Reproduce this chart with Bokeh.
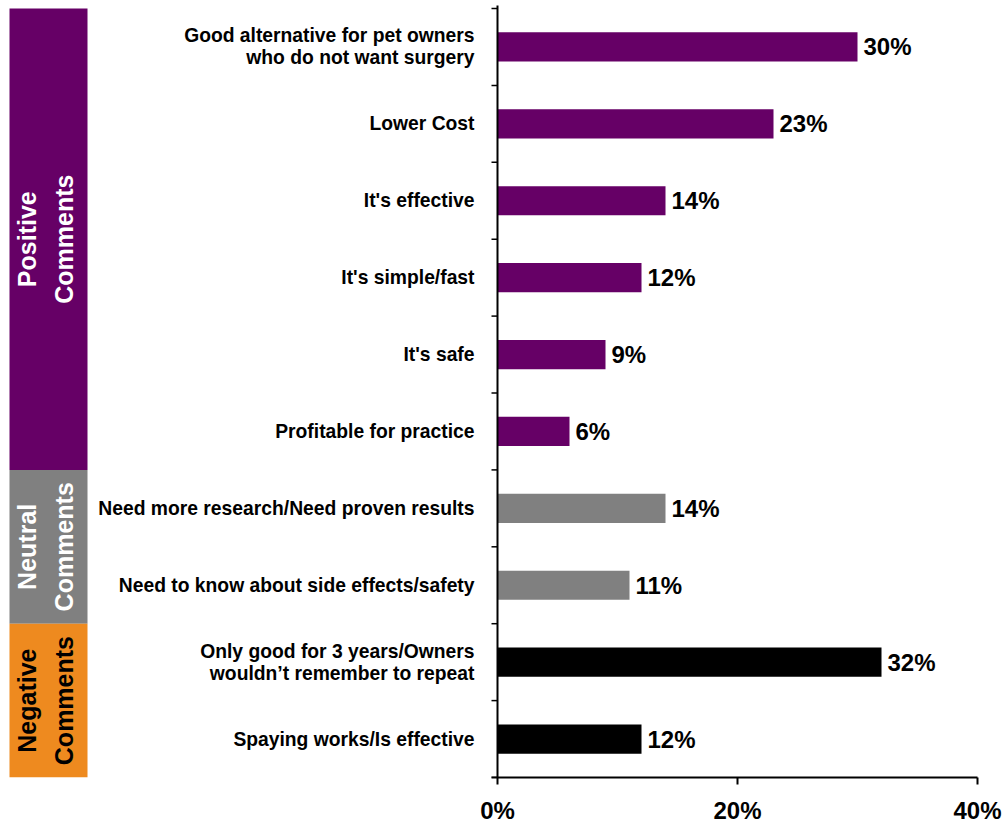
import math
from bokeh.plotting import figure
from bokeh.models import Range1d, FixedTicker, ColumnDataSource, LinearAxis
from bokeh.core.properties import value
from bokeh.embed import file_html
from bokeh.resources import INLINE

# ---------------- data ----------------
categories = [
    "Good alternative for pet owners\nwho do not want surgery",
    "Lower Cost",
    "It's effective",
    "It's simple/fast",
    "It's safe",
    "Profitable for practice",
    "Need more research/Need proven results",
    "Need to know about side effects/safety",
    "Only good for 3 years/Owners\nwouldn\u2019t remember to repeat",
    "Spaying works/Is effective",
]
values = [30, 23, 14, 12, 9, 6, 14, 11, 32, 12]
groups = ["Positive"] * 6 + ["Neutral"] * 2 + ["Negative"] * 2

group_names = ["Positive", "Neutral", "Negative"]
group_labels = ["Positive\nComments", "Neutral\nComments", "Negative\nComments"]
group_colors = ["#660066", "#808080", "#EE8A1F"]
group_text_colors = ["#FFFFFF", "#FFFFFF", "#000000"]
bar_colors = {"Positive": "#660066", "Neutral": "#808080", "Negative": "#000000"}

x_ticks = [0, 20, 40]
x_tick_labels = ["0%", "20%", "40%"]

# ---------------- layout constants ----------------
W, H = 1006, 829
X0_PX = 497          # pixel of 0%
PX_PER_UNIT = 12     # pixels per percent
ROW_PX = 76.9
TOP_PX = 8
FRAME_H = 777

def px_to_x(px):
    return (px - X0_PX) / PX_PER_UNIT

font = value("Liberation Sans")

n = len(categories)
ys = list(range(n))

p = figure(
    width=W, height=H,
    x_range=Range1d(px_to_x(0), px_to_x(W)),
    y_range=Range1d(n - 0.5, -0.5 - TOP_PX / ROW_PX),
    output_backend="svg", toolbar_location=None,
    min_border_left=0, min_border_right=0, min_border_top=0,
    min_border_bottom=H - FRAME_H,
    x_axis_location=None, y_axis_location=None,
    outline_line_color=None,
)
p.xgrid.visible = False
p.ygrid.visible = False
p.background_fill_color = "white"
p.border_fill_color = "white"

# bars
src = ColumnDataSource(dict(
    y=ys, v=values,
    color=[bar_colors[g] for g in groups],
    cat=categories,
    lab=[f"{v}%" for v in values],
    lab_x=[v + 6 / PX_PER_UNIT for v in values],
))
p.hbar(y="y", left=0, right="v", height=0.38, fill_color="color",
       line_color=None, source=src)

# value labels
p.text(x="lab_x", y="y", text="lab", source=src,
       text_align="left", text_baseline="middle",
       text_font=font, text_font_style="bold", text_font_size="24px",
       text_color="#000000")

# category labels
p.text(x=px_to_x(474), y="y", text="cat", source=src,
       text_align="right", text_baseline="middle",
       text_font=font, text_font_style="bold", text_font_size="19.3px",
       text_line_height=1.05, text_color="#000000")

# y axis line and ticks (category boundaries)
bounds = [i - 0.5 for i in range(n + 1)]
p.segment(x0=[0], y0=[bounds[0] - 3 / ROW_PX], x1=[0], y1=[bounds[-1]],
          line_color="#000000", line_width=2)
p.segment(x0=[-6 / PX_PER_UNIT] * len(bounds), y0=bounds,
          x1=[0] * len(bounds), y1=bounds,
          line_color="#000000", line_width=1.5)

# group panels
pan_left, pan_right, pan_top, pan_bot, pan_mid = [], [], [], [], []
for g in group_names:
    idx = [i for i, gg in enumerate(groups) if gg == g]
    pan_top.append(min(idx) - 0.5)
    pan_bot.append(max(idx) + 0.5)
    pan_mid.append((min(idx) + max(idx)) / 2)
    pan_left.append(px_to_x(9))
    pan_right.append(px_to_x(87))
p.quad(left=pan_left, right=pan_right, top=pan_top, bottom=pan_bot,
       fill_color=group_colors, line_color=None)
p.text(x=[px_to_x(45)] * len(group_names), y=pan_mid, text=group_labels,
       angle=math.pi / 2, text_align="center", text_baseline="middle",
       text_font=font, text_font_style="bold", text_font_size="25px",
       text_line_height=1.3, text_color=group_text_colors)

# x axis
xaxis = LinearAxis(
    ticker=FixedTicker(ticks=x_ticks),
    bounds=(-6 / PX_PER_UNIT, 40),
    major_label_overrides={t: l for t, l in zip(x_ticks, x_tick_labels)},
    axis_line_color="#000000", axis_line_width=2,
    major_tick_line_color="#000000", major_tick_line_width=2,
    major_tick_in=0, major_tick_out=7,
    minor_tick_line_color=None,
    major_label_standoff=12,
    major_label_text_font="Liberation Sans",
    major_label_text_font_style="bold",
    major_label_text_font_size="24px",
    major_label_text_color="#000000",
)
p.add_layout(xaxis, "below")

open("out.html", "w").write(file_html(p, INLINE))
